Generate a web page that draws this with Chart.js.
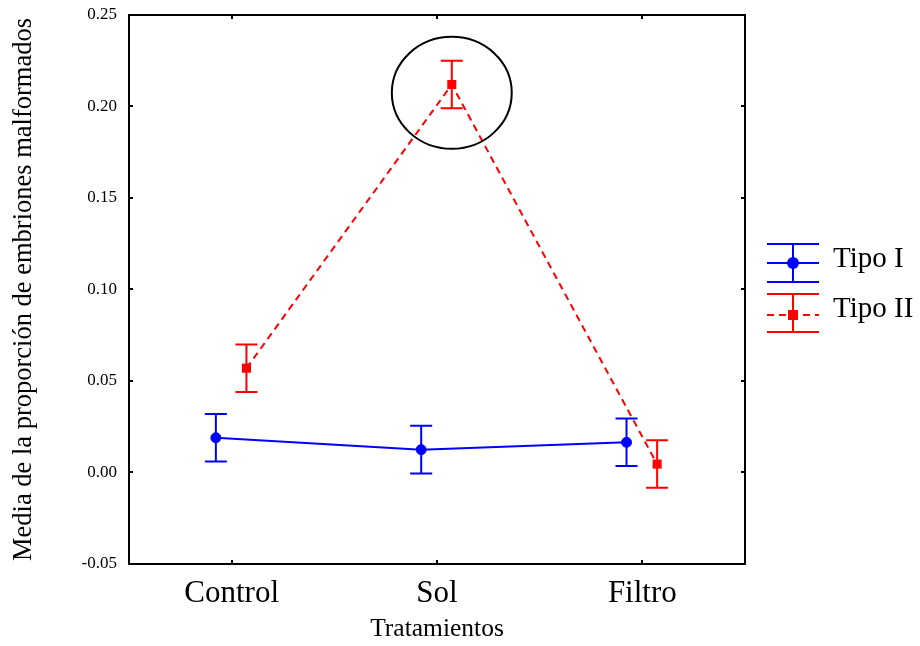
<!DOCTYPE html>
<html>
<head>
<meta charset="utf-8">
<script src="https://cdn.jsdelivr.net/npm/chart.js@4"></script>
<style>
  html, body { margin: 0; padding: 0; background: #fff; }
  #wrap { width: 920px; height: 646px; }
</style>
</head>
<body>
<div id="wrap"><canvas id="myChart" width="920" height="646"></canvas></div>
<script>
// data
const tratamientos = ['Control', 'Sol', 'Filtro'];
const tipoI = [0.019, 0.0125, 0.0165];
const tipoI_err = [0.013, 0.013, 0.013];
const tipoII = [0.057, 0.212, 0.0046];
const tipoII_err = [0.013, 0.013, 0.013];
const yTicks = [-0.05, 0.00, 0.05, 0.10, 0.15, 0.20, 0.25];
const series = ['Tipo I', 'Tipo II'];

// small side shift so the two series do not overlap
const dodgeI = -0.077;
const dodgeII = 0.072;
// circle drawn round the Sol / Tipo II point
const circle = { x: 2 + dodgeII, y: 0.2075, rx: 0.292, ry: 0.0306 };

const serif = 'Liberation Serif, Times New Roman, serif';
const blue = '#0000ff';
const red = '#ff0000';

function points(vals, dodge) {
  return vals.map((v, i) => ({ x: i + 1 + dodge, y: v }));
}

const frame = {
  id: 'frame',
  afterDraw(chart) {
    const { ctx, chartArea: a, scales } = chart;
    ctx.save();
    ctx.strokeStyle = '#000';
    ctx.lineWidth = 2;
    ctx.strokeRect(a.left, a.top, a.right - a.left, a.bottom - a.top);
    ctx.beginPath();
    yTicks.forEach(t => {
      const py = Math.round(scales.y.getPixelForValue(t));
      ctx.moveTo(a.left, py); ctx.lineTo(a.left + 4, py);
      ctx.moveTo(a.right, py); ctx.lineTo(a.right - 4, py);
    });
    tratamientos.forEach((c, i) => {
      const px = Math.round(scales.x.getPixelForValue(i + 1));
      ctx.moveTo(px, a.top); ctx.lineTo(px, a.top + 4);
      ctx.moveTo(px, a.bottom); ctx.lineTo(px, a.bottom - 4);
    });
    ctx.stroke();

    // ellipse
    const cx = scales.x.getPixelForValue(circle.x);
    const cy = scales.y.getPixelForValue(circle.y);
    const rx = Math.abs(scales.x.getPixelForValue(circle.x + circle.rx) - cx);
    const ry = Math.abs(scales.y.getPixelForValue(circle.y + circle.ry) - cy);
    ctx.beginPath();
    ctx.ellipse(cx, cy, rx, ry, 0, 0, Math.PI * 2);
    ctx.stroke();
    ctx.restore();
  }
};

const errorBars = {
  id: 'errorBars',
  afterDatasetsDraw(chart) {
    const { ctx, scales } = chart;
    chart.data.datasets.forEach(ds => {
      ctx.save();
      ctx.strokeStyle = ds.borderColor;
      ctx.lineWidth = 2;
      ds.data.forEach((p, i) => {
        const px = scales.x.getPixelForValue(p.x);
        const top = scales.y.getPixelForValue(p.y + ds.errors[i]);
        const bot = scales.y.getPixelForValue(p.y - ds.errors[i]);
        ctx.beginPath();
        ctx.moveTo(px, top); ctx.lineTo(px, bot);
        ctx.moveTo(px - 11, top); ctx.lineTo(px + 11, top);
        ctx.moveTo(px - 11, bot); ctx.lineTo(px + 11, bot);
        ctx.stroke();
      });
      ctx.restore();
    });
  }
};

const legendBox = {
  id: 'legendBox',
  afterDraw(chart) {
    const { ctx, chartArea: a } = chart;
    const x0 = a.right + 22, x1 = a.right + 74, xm = (x0 + x1) / 2;
    ctx.save();
    chart.data.datasets.forEach((ds, k) => {
      const cy = 263 + k * 50;
      ctx.strokeStyle = ds.borderColor;
      ctx.fillStyle = ds.borderColor;
      ctx.lineWidth = 2;
      ctx.setLineDash([]);
      ctx.beginPath();
      ctx.moveTo(x0, cy - 19); ctx.lineTo(x1, cy - 19);
      ctx.moveTo(x0, cy + 19); ctx.lineTo(x1, cy + 19);
      ctx.moveTo(xm, cy - 19); ctx.lineTo(xm, cy + 19);
      ctx.stroke();
      ctx.setLineDash(ds.borderDash || []);
      ctx.beginPath();
      ctx.moveTo(x0, cy + k * 2); ctx.lineTo(x1, cy + k * 2);
      ctx.stroke();
      ctx.setLineDash([]);
      ctx.beginPath();
      if (ds.pointStyle === 'rect') {
        ctx.rect(xm - 5, cy + k * 2 - 5, 10, 10);
      } else {
        ctx.arc(xm, cy, 6, 0, Math.PI * 2);
      }
      ctx.fill();
      ctx.fillStyle = '#000';
      ctx.font = '29px ' + serif;
      ctx.textBaseline = 'alphabetic';
      ctx.textAlign = 'left';
      ctx.fillText(ds.label, a.right + 88, cy + 4);
    });
    ctx.restore();
  }
};

window.addEventListener('load', setup);

function setup() {
  const ctx = document.getElementById('myChart').getContext('2d');
  new Chart(ctx, {
    type: 'line',
    data: {
      datasets: [
        {
          label: series[0],
          data: points(tipoI, dodgeI),
          errors: tipoI_err,
          borderColor: blue,
          backgroundColor: blue,
          borderWidth: 2,
          pointStyle: 'circle',
          pointRadius: 5,
          pointBorderWidth: 1,
          fill: false
        },
        {
          label: series[1],
          data: points(tipoII, dodgeII),
          errors: tipoII_err,
          borderColor: red,
          backgroundColor: red,
          borderWidth: 2,
          borderDash: [7, 5],
          pointStyle: 'rect',
          pointRadius: 6.4,
          pointBorderWidth: 0,
          fill: false
        }
      ]
    },
    options: {
      responsive: false,
      animation: false,
      layout: { padding: { top: 15, right: 175, left: 0, bottom: 0 } },
      plugins: { legend: { display: false }, tooltip: { enabled: false } },
      scales: {
        x: {
          type: 'linear',
          min: 0.5,
          max: 3.5,
          grid: { display: false, drawTicks: false },
          border: { display: false },
          afterBuildTicks: s => { s.ticks = tratamientos.map((c, i) => ({ value: i + 1 })); },
          afterFit: s => { s.height = 82; s.paddingLeft = 0; s.paddingRight = 0; },
          ticks: {
            autoSkip: false,
            maxRotation: 0,
            padding: 11,
            color: '#000',
            font: { family: serif, size: 31 },
            callback: v => tratamientos[v - 1]
          },
          title: {
            display: true,
            text: 'Tratamientos',
            color: '#000',
            font: { family: serif, size: 25.5 },
            padding: { top: 0, bottom: 1 }
          }
        },
        y: {
          min: -0.05,
          max: 0.25,
          grid: { display: false, drawTicks: false },
          border: { display: false },
          afterBuildTicks: s => { s.ticks = yTicks.map(v => ({ value: v })); },
          afterFit: s => { s.width = 129; s.paddingTop = 0; s.paddingBottom = 0; },
          ticks: {
            padding: 12,
            color: '#000',
            font: { family: serif, size: 17 },
            callback: v => v.toFixed(2)
          },
          title: {
            display: true,
            text: 'Media de la proporción de embriones malformados',
            color: '#000',
            font: { family: serif, size: 26.5 },
            padding: { top: 8.5, bottom: 0 }
          }
        }
      }
    },
    plugins: [frame, errorBars, legendBox]
  });
}
</script>
</body>
</html>
